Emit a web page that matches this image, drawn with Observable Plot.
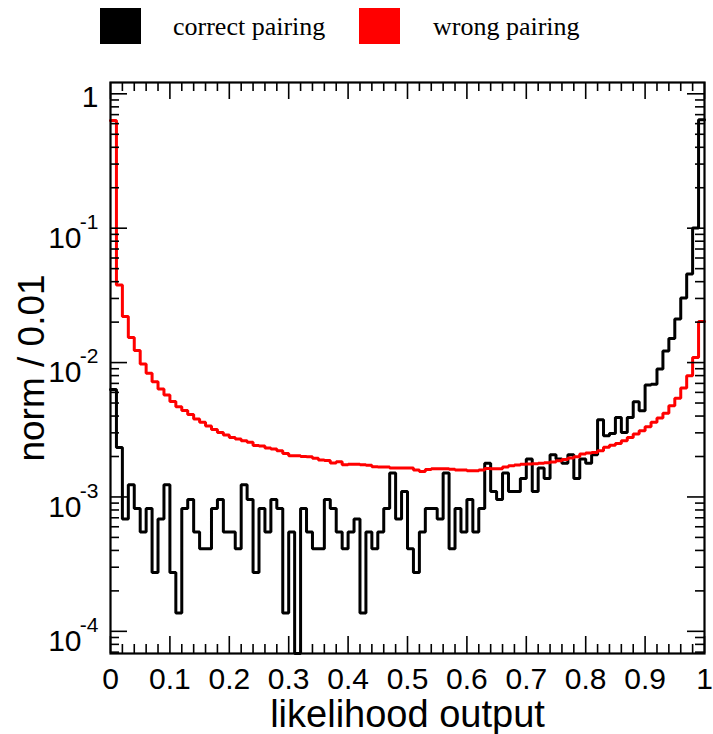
<!DOCTYPE html>
<html>
<head>
<meta charset="utf-8">
<script src="https://cdn.jsdelivr.net/npm/d3@7"></script>
<script src="https://cdn.jsdelivr.net/npm/@observablehq/plot@0.6"></script>
<style>
  body { margin: 0; background: #fff; }
  #legend { position: relative; width: 713px; height: 56px; font-family: "Liberation Serif", "Times New Roman", serif; font-size: 26px; line-height: 26px; }
  #legend .sw { position: absolute; top: 8px; width: 41px; height: 36px; }
  #legend .lb { position: absolute; top: 14px; white-space: nowrap; color: #000; }
  #chart svg { display: block; }
</style>
</head>
<body>
<div id="legend"></div>
<div id="chart"></div>
<script>
// ---- data ----
const seriesNames = ["correct pairing", "wrong pairing"];
const seriesColors = ["#000000", "#ff0000"];
const binWidth = 0.01;
const binLow = d3.range(100).map(i => +(i * binWidth).toFixed(2));

const correct = [
  6.3e-3, 2.33e-3, 6.85e-4, 1.23e-3, 8.22e-4, 5.48e-4, 8.22e-4, 2.74e-4, 6.85e-4, 1.23e-3,
  2.74e-4, 1.37e-4, 8.22e-4, 9.59e-4, 5.48e-4, 4.11e-4, 4.11e-4, 8.22e-4, 9.59e-4, 5.48e-4,
  5.48e-4, 4.11e-4, 1.23e-3, 9.59e-4, 2.74e-4, 8.22e-4, 5.48e-4, 9.59e-4, 8.22e-4, 1.37e-4,
  5.48e-4, 0, 8.22e-4, 5.48e-4, 4.11e-4, 4.11e-4, 9.59e-4, 8.22e-4, 5.48e-4, 4.11e-4,
  5.48e-4, 6.85e-4, 1.37e-4, 5.48e-4, 4.11e-4, 5.48e-4, 8.22e-4, 1.51e-3, 6.85e-4, 1.10e-3,
  4.11e-4, 2.74e-4, 5.48e-4, 8.22e-4, 8.22e-4, 6.85e-4, 1.51e-3, 4.11e-4, 8.22e-4, 5.48e-4,
  9.59e-4, 5.48e-4, 8.22e-4, 1.78e-3, 1.10e-3, 9.59e-4, 1.51e-3, 1.10e-3, 1.10e-3, 1.37e-3,
  1.92e-3, 1.10e-3, 1.64e-3, 1.37e-3, 2.06e-3, 1.92e-3, 1.78e-3, 2.06e-3, 1.37e-3, 1.92e-3,
  1.78e-3, 2.06e-3, 3.76e-3, 2.86e-3, 2.97e-3, 3.91e-3, 3.02e-3, 3.91e-3, 5.12e-3, 4.38e-3,
  6.81e-3, 6.9e-3, 8.96e-3, 0.0122, 0.0151, 0.0211, 0.0303, 0.0457, 0.1005, 0.640
];

const wrong = [
  0.633, 0.0378, 0.022, 0.0154, 0.0123, 0.00977, 0.00832, 0.00721, 0.00636, 0.00574,
  0.00514, 0.00470, 0.00439, 0.00410, 0.00380, 0.00359, 0.00338, 0.00317, 0.00302, 0.00289,
  0.00277, 0.00270, 0.00262, 0.00255, 0.00241, 0.00239, 0.00231, 0.00227, 0.00221, 0.00211,
  0.00203, 0.00203, 0.00200, 0.00199, 0.00194, 0.00188, 0.00187, 0.00179, 0.00183, 0.00174,
  0.00175, 0.00175, 0.00174, 0.00172, 0.00168, 0.00167, 0.00167, 0.00164, 0.00164, 0.00164,
  0.00164, 0.00159, 0.00155, 0.00160, 0.00162, 0.00162, 0.00162, 0.00161, 0.00159, 0.00159,
  0.00157, 0.00157, 0.00159, 0.00163, 0.00162, 0.00162, 0.00167, 0.00171, 0.00173, 0.00175,
  0.00176, 0.00177, 0.00178, 0.00180, 0.00182, 0.00186, 0.00190, 0.00195, 0.00199, 0.00209,
  0.00212, 0.00214, 0.00221, 0.00234, 0.00243, 0.00250, 0.00262, 0.00277, 0.00294, 0.00311,
  0.00333, 0.00359, 0.00387, 0.00419, 0.00478, 0.00542, 0.00647, 0.00798, 0.0109, 0.0202
];

const xTicks = [0, 0.1, 0.2, 0.3, 0.4, 0.5, 0.6, 0.7, 0.8, 0.9, 1];
const xTickLabels = ["0", "0.1", "0.2", "0.3", "0.4", "0.5", "0.6", "0.7", "0.8", "0.9", "1"];
const yTicks = [1e-4, 1e-3, 1e-2, 1e-1, 1];
const yTickBase = ["10", "10", "10", "10", "1"];
const yTickExp = ["-4", "-3", "-2", "-1", ""];
const xTitle = "likelihood output";
const yTitle = "norm / 0.01";
const yDomain = [6.84e-5, 1.214];

// ---- legend ----
const legend = document.getElementById("legend");
const legendPos = [[100, 173], [359, 433]];
seriesNames.forEach((name, i) => {
  const sw = document.createElement("div");
  sw.className = "sw";
  sw.style.left = legendPos[i][0] + "px";
  sw.style.background = seriesColors[i];
  legend.appendChild(sw);
  const lb = document.createElement("div");
  lb.className = "lb";
  lb.style.left = legendPos[i][1] + "px";
  lb.textContent = name;
  legend.appendChild(lb);
});

// ---- derived rows ----
function stepRows(values) {
  const rows = values.map((v, i) => ({x: binLow[i], y: Math.max(v, yDomain[0])}));
  rows.push({x: 1, y: rows[rows.length - 1].y});
  return rows;
}
const xMinor = d3.range(0, 51).map(i => +(i * 0.02).toFixed(2)).filter(v => !xTicks.includes(v));
const yMinor = [];
for (let e = -5; e <= 0; e++) for (let k = 2; k <= 9; k++) {
  const v = k * Math.pow(10, e);
  if (v > yDomain[0] && v < yDomain[1]) yMinor.push(v);
}
const yLabelRows = yTicks.map((v, i) => ({v, base: yTickBase[i], exp: yTickExp[i]}));
const xLabelRows = xTicks.map((v, i) => ({v, label: xTickLabels[i]}));

const W = 713, H = 678, mL = 110, mR = 9, mT = 26, mB = 81;
const innerH = H - mT - mB, innerW = W - mL - mR;
const majorLen = 17, minorLen = 9;
const font = "Liberation Sans, Arial, Helvetica, sans-serif";

const chart = Plot.plot({
  width: W, height: H,
  marginLeft: mL, marginRight: mR, marginTop: mT, marginBottom: mB,
  style: {fontFamily: font, background: "#fff", overflow: "visible"},
  x: {domain: [0, 1], axis: null},
  y: {type: "log", domain: yDomain, axis: null},
  marks: [
    Plot.line(stepRows(correct), {x: "x", y: "y", curve: "step-after", stroke: seriesColors[0], strokeWidth: 3, strokeLinejoin: "miter"}),
    Plot.line(stepRows(wrong), {x: "x", y: "y", curve: "step-after", stroke: seriesColors[1], strokeWidth: 3, strokeLinejoin: "miter"}),
    // x ticks bottom & top
    Plot.tickX(xTicks, {x: d => d, insetTop: innerH - majorLen, stroke: "black", strokeWidth: 1.6}),
    Plot.tickX(xTicks, {x: d => d, insetBottom: innerH - majorLen, stroke: "black", strokeWidth: 1.6}),
    Plot.tickX(xMinor, {x: d => d, insetTop: innerH - minorLen, stroke: "black", strokeWidth: 1.6}),
    Plot.tickX(xMinor, {x: d => d, insetBottom: innerH - minorLen, stroke: "black", strokeWidth: 1.6}),
    // y ticks left & right
    Plot.tickY(yTicks, {y: d => d, insetRight: innerW - majorLen, stroke: "black", strokeWidth: 1.6}),
    Plot.tickY(yTicks, {y: d => d, insetLeft: innerW - majorLen, stroke: "black", strokeWidth: 1.6}),
    Plot.tickY(yMinor, {y: d => d, insetRight: innerW - minorLen, stroke: "black", strokeWidth: 1.6}),
    Plot.tickY(yMinor, {y: d => d, insetLeft: innerW - minorLen, stroke: "black", strokeWidth: 1.6}),
    Plot.frame({stroke: "black", strokeWidth: 2.2}),
    // x tick labels
    Plot.text(xLabelRows, {x: "v", text: "label", frameAnchor: "bottom", lineAnchor: "middle", dy: 26, fontSize: 30, fill: "black"}),
    // y tick labels
    Plot.text(yLabelRows.filter(d => d.exp !== ""), {y: "v", text: "base", frameAnchor: "left", textAnchor: "end", dx: -29, dy: 10, fontSize: 30, fill: "black"}),
    Plot.text(yLabelRows.filter(d => d.exp !== ""), {y: "v", text: "exp", frameAnchor: "left", textAnchor: "end", dx: -12, dy: -6, fontSize: 21, fill: "black"}),
    Plot.text(yLabelRows.filter(d => d.exp === ""), {y: "v", text: "base", frameAnchor: "left", textAnchor: "end", dx: -12, dy: 4, fontSize: 30, fill: "black"}),
    // axis titles
    Plot.text([xTitle], {text: d => d, frameAnchor: "bottom", lineAnchor: "middle", textAnchor: "middle", dy: 61, fontSize: 38, fill: "black"}),
    Plot.text([yTitle], {text: d => d, frameAnchor: "left", lineAnchor: "middle", textAnchor: "middle", dx: -78, rotate: -90, fontSize: 37, fill: "black"})
  ]
});
document.getElementById("chart").appendChild(chart);
</script>
</body>
</html>
